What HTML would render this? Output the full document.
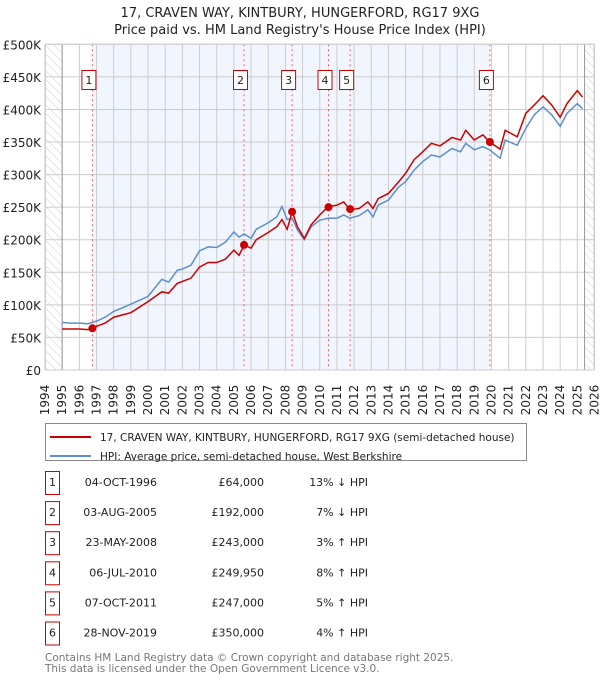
<!DOCTYPE html>
<html><head><meta charset="utf-8"><style>
body{margin:0;background:#fff;width:600px;height:680px;overflow:hidden;font-family:"DejaVu Sans","Liberation Sans",sans-serif;}
svg text{font-family:"DejaVu Sans","Liberation Sans",sans-serif;}
</style></head><body>
<svg id="chart" width="600" height="680" xmlns="http://www.w3.org/2000/svg">
<defs><pattern id="hatch" width="6" height="6" patternUnits="userSpaceOnUse" patternTransform="rotate(-45)"><line x1="0" y1="0" x2="0" y2="6" stroke="#ccc" stroke-width="1"/></pattern></defs>
<text x="300" y="17" text-anchor="middle" font-size="13" fill="#222">17, CRAVEN WAY, KINTBURY, HUNGERFORD, RG17 9XG</text>
<text x="300" y="34" text-anchor="middle" font-size="13" fill="#222">Price paid vs. HM Land Registry's House Price Index (HPI)</text>
<g id="plot"></g>
<g>
<rect x="45.5" y="423.5" width="481" height="37" fill="#fff" stroke="#888"/>
<line x1="50" y1="437" x2="91" y2="437" stroke="#cc0000" stroke-width="2"/>
<text x="100" y="441" font-size="10.5" fill="#222">17, CRAVEN WAY, KINTBURY, HUNGERFORD, RG17 9XG (semi-detached house)</text>
<line x1="50" y1="456" x2="91" y2="456" stroke="#5b8fd0" stroke-width="2"/>
<text x="100" y="460" font-size="10.5" fill="#222">HPI: Average price, semi-detached house, West Berkshire</text>
</g>
<g id="table" font-size="11" fill="#222"></g>
<text x="45" y="661" font-size="10.5" fill="#777">Contains HM Land Registry data © Crown copyright and database right 2025.</text>
<text x="45" y="672" font-size="10.5" fill="#777">This data is licensed under the Open Government Licence v3.0.</text>
</svg>
<script>
const hpiYears=[1995,1995.5,1996,1996.5,1997,1997.5,1998,1999,2000,2000.8,2001.2,2001.7,2002,2002.5,2003,2003.5,2004,2004.5,2005,2005.3,2005.6,2006,2006.3,2007,2007.5,2007.8,2008.1,2008.4,2008.7,2009.1,2009.5,2010,2010.5,2011,2011.4,2011.75,2012.3,2012.8,2013.1,2013.4,2014,2014.6,2015,2015.5,2016,2016.5,2017,2017.7,2018.2,2018.5,2019,2019.5,2019.9,2020.5,2020.8,2021.5,2022,2022.5,2023,2023.5,2024,2024.4,2025,2025.3];
const hpiValues=[73,72,72,71,75,81,90,101,113,139,135,153,155,161,183,189,188,196,212,204,209,202,216,226,235,251,231,233,215,200,220,230,233,233,238,233,237,246,235,253,261,281,289,307,320,330,327,340,335,348,338,343,338,325,353,345,371,392,404,392,374,394,409,401];
const redYears=[1995,1995.5,1996,1996.5,1996.75,1997,1997.5,1998,1999,2000,2000.8,2001.2,2001.7,2002,2002.5,2003,2003.5,2004,2004.5,2005,2005.3,2005.6,2006,2006.3,2007,2007.5,2007.8,2008.1,2008.4,2008.7,2009.1,2009.5,2010,2010.5,2011,2011.4,2011.75,2012.3,2012.8,2013.1,2013.4,2014,2014.6,2015,2015.5,2016,2016.5,2017,2017.7,2018.2,2018.5,2019,2019.5,2019.9,2020.5,2020.8,2021.5,2022,2022.5,2023,2023.5,2024,2024.4,2025,2025.3];
const redValues=[63,63,63,62,64,67,72,81,88,105,120,118,133,136,141,158,165,165,170,184,176,192,187,200,211,220,231,216,243,220,202,223,238,251,253,258,246,248,258,248,263,271,289,302,323,335,348,344,357,353,368,353,361,350,339,368,358,394,407,421,407,388,409,429,419];
const saleLabels=["1","2","3","4","5","6"];
const saleYears=[1996.76,2005.59,2008.39,2010.51,2011.77,2019.91];
const salePrices=[64,192,243,249.95,247,350];
const saleDates=["04-OCT-1996","03-AUG-2005","23-MAY-2008","06-JUL-2010","07-OCT-2011","28-NOV-2019"];
const salePriceText=["£64,000","£192,000","£243,000","£249,950","£247,000","£350,000"];
const saleHpiText=["13% ↓ HPI","7% ↓ HPI","3% ↑ HPI","8% ↑ HPI","5% ↑ HPI","4% ↑ HPI"];
const yTicks=[0,50,100,150,200,250,300,350,400,450,500];
const yTickLabels=["£0","£50K","£100K","£150K","£200K","£250K","£300K","£350K","£400K","£450K","£500K"];
const xTicks=[1994,1995,1996,1997,1998,1999,2000,2001,2002,2003,2004,2005,2006,2007,2008,2009,2010,2011,2012,2013,2014,2015,2016,2017,2018,2019,2020,2021,2022,2023,2024,2025,2026];

const L=45,R=594.5,T=44.3,B=370;
const xs=y=>L+(y-1994)/32*(R-L);
const ys=v=>B-v/500*(B-T);
const NS="http://www.w3.org/2000/svg";
const plot=document.getElementById('plot');
function mk(tag,attrs,parent){const e=document.createElementNS(NS,tag);for(const k in attrs)e.setAttribute(k,attrs[k]);(parent||plot).appendChild(e);return e;}

let e;
e=mk('rect',{x:L,y:T,width:R-L,height:B-T,fill:'#fff'});

e=mk('rect',{x:xs(saleYears[0]),y:T,width:xs(saleYears[5])-xs(saleYears[0]),height:B-T,fill:'#f1f5fd'});

e=mk('rect',{x:L,y:T,width:xs(1995)-L,height:B-T,fill:'url(#hatch)'});

e=mk('rect',{x:xs(2025.42),y:T,width:R-xs(2025.42),height:B-T,fill:'url(#hatch)'});

yTicks.forEach((v,i)=>{
  e=mk('line',{x1:L,x2:R,y1:ys(v),y2:ys(v),stroke:'#ccc','stroke-width':1});
  
  e=mk('text',{x:L-4,y:ys(v)+5,'text-anchor':'end','font-size':12,fill:'#222'});e.textContent=yTickLabels[i];
  
});
xTicks.forEach(y=>{
  e=mk('line',{x1:xs(y),x2:xs(y),y1:T,y2:B,stroke:'#ccc','stroke-width':1});
  
  const tx=xs(y)+4,ty=B+30;
  e=mk('text',{x:tx,y:ty,'text-anchor':'middle','font-size':12,fill:'#222',transform:`rotate(-90 ${tx} ${ty})`});e.textContent=y;
  
});
e=mk('line',{x1:xs(1995),x2:xs(1995),y1:T,y2:B,stroke:'#999'});

e=mk('line',{x1:xs(2025.42),x2:xs(2025.42),y1:T,y2:B,stroke:'#999'});

saleYears.forEach((y,i)=>{
  e=mk('line',{x1:xs(y),x2:xs(y),y1:T,y2:B,stroke:'#f06060','stroke-dasharray':'2,3'});
  
  e=mk('rect',{x:xs(y)-10.5,y:70.5,width:14,height:19,fill:'#fff',stroke:'#cc0000'});
  
  e=mk('text',{x:xs(y)-3.5,y:84,'text-anchor':'middle','font-size':11,fill:'#222'});e.textContent=saleLabels[i];
  
});
e=mk('polyline',{points:hpiYears.map((y,i)=>xs(y)+','+ys(hpiValues[i])).join(' '),fill:'none',stroke:'#5b8fd0','stroke-width':1.5});

e=mk('polyline',{points:redYears.map((y,i)=>xs(y)+','+ys(redValues[i])).join(' '),fill:'none',stroke:'#cc0000','stroke-width':1.5});

saleYears.forEach((y,i)=>{
  e=mk('circle',{cx:xs(y),cy:ys(salePrices[i]),r:4,fill:'#cc0000'});
  
});
e=mk('rect',{x:L+0.5,y:T,width:R-L-1,height:B-T,fill:'none',stroke:'#ccc'});


const tb=document.getElementById('table');
saleLabels.forEach((s,i)=>{
  const cy=483+i*30.1;
  e=mk('rect',{x:45.5,y:cy-11.5,width:14,height:23,fill:'#fff',stroke:'#cc0000'},tb);
  
  e=mk('text',{x:52.5,y:cy+3,'text-anchor':'middle'},tb);e.textContent=s;
  
  e=mk('text',{x:157,y:cy+3,'text-anchor':'end'},tb);e.textContent=saleDates[i];
  
  e=mk('text',{x:264,y:cy+3,'text-anchor':'end'},tb);e.textContent=salePriceText[i];
  
  e=mk('text',{x:368,y:cy+3,'text-anchor':'end'},tb);e.textContent=saleHpiText[i];
  
});
</script>
</body></html>
